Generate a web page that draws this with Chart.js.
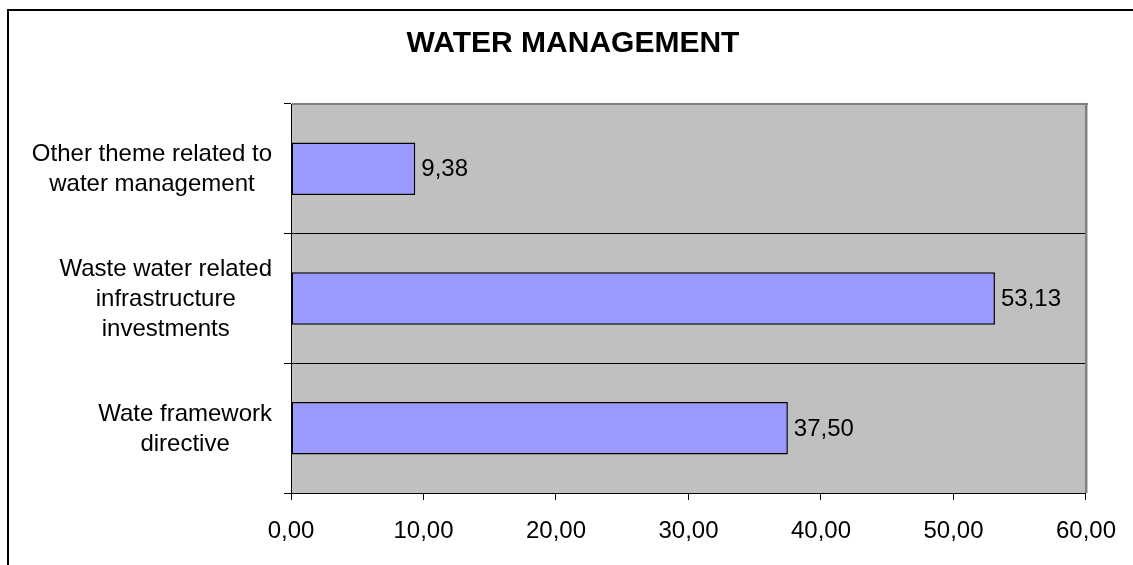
<!DOCTYPE html>
<html>
<head>
<meta charset="utf-8">
<script src="https://cdn.jsdelivr.net/npm/chart.js@4/dist/chart.umd.min.js"></script>
<style>
  html, body { margin: 0; padding: 0; background: #ffffff; overflow: hidden; }
  #wrap { position: relative; width: 1133px; height: 565px; overflow: hidden; }
  #frame { position: absolute; left: 7px; top: 9px; width: 1400px; height: 800px;
           border-left: 2px solid #000; border-top: 2px solid #000; box-sizing: border-box; }
  canvas { position: absolute; left: 0; top: 0; }
</style>
</head>
<body>
<div id="wrap">
  <div id="frame"></div>
  <canvas id="c" width="1133" height="565"></canvas>
</div>
<script>
// ---- data ----
const chartTitle = "WATER MANAGEMENT";
const categories = [
  ["Other theme related to", "water management"],
  ["Waste water related", "infrastructure", "investments"],
  ["Wate framework", "directive"]
];
const values = [9.38, 53.13, 37.50];
const xTicks = { min: 0, max: 60, step: 10 };

const FONT = "'Liberation Sans', Arial, sans-serif";
const fmt = v => Number(v).toFixed(2).replace('.', ',');

const plotBg = {
  id: 'plotBg',
  beforeDraw(chart) {
    const { ctx, chartArea: a } = chart;
    ctx.save();
    ctx.fillStyle = '#C0C0C0';
    ctx.fillRect(a.left, a.top, a.right - a.left, a.bottom - a.top);
    ctx.restore();
  },
  afterDraw(chart) {
    const { ctx, chartArea: a } = chart;
    ctx.save();
    ctx.fillStyle = '#808080';
    ctx.fillRect(a.left + 1, a.top - 1, a.right - a.left + 1, 2);
    ctx.fillRect(a.right - 1, a.top - 1, 2.5, a.bottom - a.top + 1);
    ctx.restore();
  }
};

const catLabels = {
  id: 'catLabels',
  afterDraw(chart) {
    const { ctx } = chart;
    const ys = chart.scales.y;
    ctx.save();
    ctx.font = '24px ' + FONT;
    ctx.fillStyle = '#000';
    ctx.textAlign = 'center';
    ctx.textBaseline = 'alphabetic';
    const rightEdge = ys.right - 19;
    categories.forEach((lines, i) => {
      const cy = ys.getPixelForValue(i) - 1;
      const maxW = Math.max(...lines.map(l => ctx.measureText(l).width));
      const cx = rightEdge - maxW / 2;
      const n = lines.length;
      lines.forEach((l, k) => {
        const capC = cy + (k - (n - 1) / 2) * 30;
        ctx.fillText(l, cx, capC + 0.358 * 24);
      });
    });
    ctx.restore();
  }
};

const valueLabels = {
  id: 'valueLabels',
  afterDatasetsDraw(chart) {
    const { ctx } = chart;
    const xs = chart.scales.x, ys = chart.scales.y;
    ctx.save();
    ctx.font = '24px ' + FONT;
    ctx.fillStyle = '#000';
    ctx.textAlign = 'left';
    ctx.textBaseline = 'alphabetic';
    values.forEach((v, i) => {
      const x = xs.getPixelForValue(v) + 6;
      const y = ys.getPixelForValue(i) + 7.5;
      ctx.fillText(fmt(v), x, y);
    });
    ctx.restore();
  }
};

new Chart(document.getElementById('c'), {
  type: 'bar',
  data: {
    labels: categories,
    datasets: [{
      data: values,
      backgroundColor: '#9999FF',
      borderColor: '#000000',
      borderWidth: 1.5,
      borderSkipped: false,
      categoryPercentage: 1.0,
      barPercentage: 0.405
    }]
  },
  options: {
    indexAxis: 'y',
    responsive: false,
    animation: false,
    events: [],
    layout: { padding: { left: 57, right: 44, top: 0, bottom: 0 } },
    plugins: {
      legend: { display: false },
      tooltip: { enabled: false },
      title: {
        display: true,
        text: chartTitle,
        color: '#000',
        font: { family: FONT, size: 30, weight: 'bold', lineHeight: 1.2 },
        padding: { top: 26, bottom: 42 }
      }
    },
    scales: {
      x: {
        type: 'linear',
        min: xTicks.min,
        max: xTicks.max,
        afterFit(s) { s.height = 72; },
        ticks: {
          stepSize: xTicks.step,
          color: '#000',
          font: { family: FONT, size: 24 },
          padding: 17,
          callback: v => fmt(v)
        },
        grid: { display: true, drawOnChartArea: false, drawTicks: true, tickLength: 7, color: '#000', lineWidth: 1 },
        border: { display: true, color: '#000', width: 1 }
      },
      y: {
        type: 'category',
        afterFit(s) { s.width = 234; },
        ticks: { display: false },
        grid: { display: true, offset: true, drawOnChartArea: true, drawTicks: true, tickLength: 7, color: '#000', lineWidth: 1 },
        border: { display: true, color: '#000', width: 1 }
      }
    }
  },
  plugins: [plotBg, catLabels, valueLabels]
});
</script>
</body>
</html>
